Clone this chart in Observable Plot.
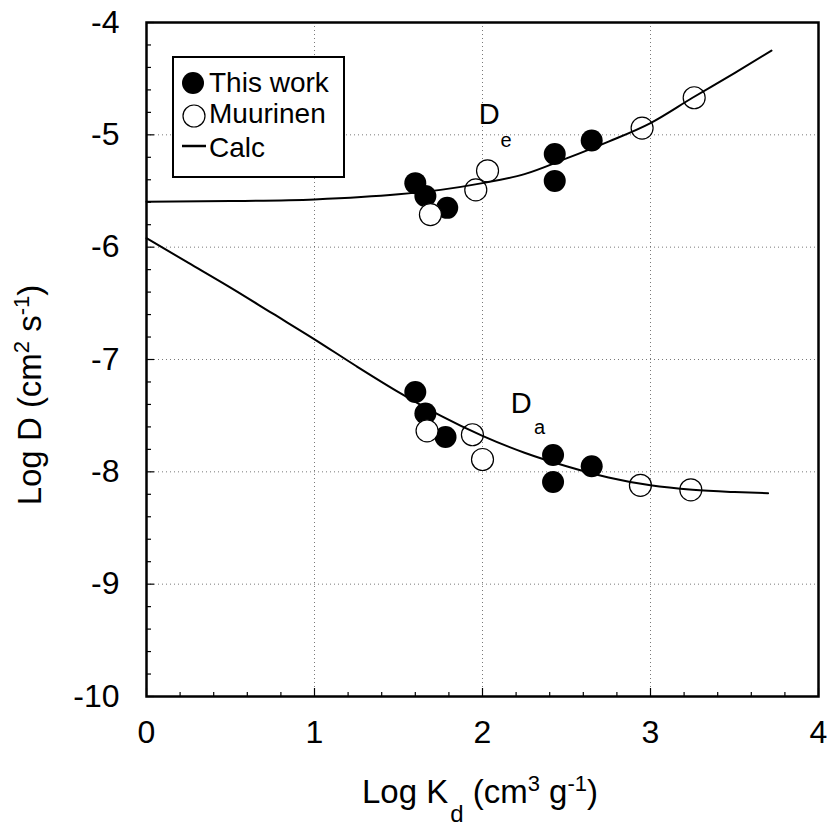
<!DOCTYPE html>
<html><head><meta charset="utf-8">
<script src="https://cdn.jsdelivr.net/npm/d3@7"></script>
<script src="https://cdn.jsdelivr.net/npm/@observablehq/plot@0.6"></script>
<style>body{margin:0;background:#fff}#chart{width:829px;height:827px}</style>
</head><body><div id="chart"></div>
<script>
// ---- data ----
const deFilledX = [1.60, 1.66, 1.79, 2.43, 2.43, 2.65];
const deFilledY = [-5.43, -5.545, -5.65, -5.17, -5.41, -5.05];
const deOpenX = [1.69, 1.96, 2.03, 2.95, 3.26];
const deOpenY = [-5.71, -5.49, -5.32, -4.94, -4.67];
const daFilledX = [1.60, 1.66, 1.78, 2.42, 2.42, 2.65];
const daFilledY = [-7.29, -7.48, -7.69, -7.85, -8.09, -7.95];
const daOpenX = [1.67, 1.94, 2.00, 2.94, 3.24];
const daOpenY = [-7.635, -7.67, -7.89, -8.12, -8.16];
const deCalcX = [0, 0.5, 1.0, 1.5, 1.75, 2.0, 2.25, 2.5, 2.75, 3.0, 3.25, 3.5, 3.72];
const deCalcY = [-5.595, -5.59, -5.575, -5.53, -5.49, -5.43, -5.35, -5.21, -5.06, -4.895, -4.67, -4.45, -4.25];
const daCalcX = [0, 0.25, 0.5, 0.75, 1.0, 1.25, 1.5, 1.75, 2.0, 2.25, 2.5, 2.75, 3.0, 3.25, 3.5, 3.7];
const daCalcY = [-5.92, -6.14, -6.36, -6.59, -6.82, -7.06, -7.29, -7.50, -7.68, -7.83, -7.95, -8.05, -8.12, -8.16, -8.18, -8.19];
const xTicks = [0, 1, 2, 3, 4];
const yTicks = [-4, -5, -6, -7, -8, -9, -10];
const xMinor = [0.2, 0.4, 0.6, 0.8, 1.2, 1.4, 1.6, 1.8, 2.2, 2.4, 2.6, 2.8, 3.2, 3.4, 3.6, 3.8];
const yMinor = [-4.2, -4.4, -4.6, -4.8, -5.2, -5.4, -5.6, -5.8, -6.2, -6.4, -6.6, -6.8, -7.2, -7.4, -7.6, -7.8, -8.2, -8.4, -8.6, -8.8, -9.2, -9.4, -9.6, -9.8];
const xGrid = [1, 2, 3];
const yGrid = [-5, -6, -7, -8, -9];
const legendLabels = ["This work", "Muurinen", "Calc"];

const pts = (xs, ys) => xs.map((x, i) => ({x, y: ys[i]}));
const deFilled = pts(deFilledX, deFilledY), deOpen = pts(deOpenX, deOpenY);
const daFilled = pts(daFilledX, daFilledY), daOpen = pts(daOpenX, daOpenY);
const deCalc = pts(deCalcX, deCalcY), daCalc = pts(daCalcX, daCalcY);

const FONT = "'Liberation Sans', Arimo, Arial, Helvetica, sans-serif";
const W = 829, H = 827, mL = 146, mR = 11, mT = 22, mB = 131;
const fmt = d => String(d);

const svgEl = Plot.plot({
  width: W, height: H,
  marginLeft: mL, marginRight: mR, marginTop: mT, marginBottom: mB,
  style: {fontFamily: FONT, background: "white", color: "black", overflow: "visible"},
  x: {domain: [0, 4]},
  y: {domain: [-10, -4]},
  marks: [
    Plot.gridX(xGrid, {stroke: "#444", strokeOpacity: 0.9, strokeWidth: 0.8, strokeDasharray: "1,3"}),
    Plot.gridY(yGrid, {stroke: "#444", strokeOpacity: 0.9, strokeWidth: 0.8, strokeDasharray: "1,3"}),
    Plot.axisX({ticks: xMinor, tickSize: -4, text: null, label: null, strokeWidth: 1.2}),
    Plot.axisX({ticks: xTicks, tickSize: -8, text: null, label: null, strokeWidth: 1.2}),
    Plot.axisX({ticks: xTicks, tickSize: 0, tickPadding: 24, tickFormat: fmt, fontSize: 32, label: null}),
    Plot.axisY({ticks: yMinor, tickSize: -5, text: null, label: null, strokeWidth: 1.2}),
    Plot.axisY({ticks: yTicks, tickSize: -8, text: null, label: null, strokeWidth: 1.2}),
    Plot.axisY({ticks: yTicks, tickSize: 0, tickPadding: 27, tickFormat: fmt, fontSize: 32, label: null}),
    Plot.frame({stroke: "black", strokeWidth: 2.5}),
    Plot.dot(deFilled, {x: "x", y: "y", r: 11, fill: "black"}),
    Plot.dot(daFilled, {x: "x", y: "y", r: 11, fill: "black"}),
    Plot.dot(deOpen, {x: "x", y: "y", r: 11, fill: "white", stroke: "black", strokeWidth: 1.2}),
    Plot.dot(daOpen, {x: "x", y: "y", r: 11, fill: "white", stroke: "black", strokeWidth: 1.2}),
    Plot.line(deCalc, {x: "x", y: "y", stroke: "black", strokeWidth: 2, curve: "monotone-x"}),
    Plot.line(daCalc, {x: "x", y: "y", stroke: "black", strokeWidth: 2, curve: "monotone-x"}),
    Plot.text([{x: 2.04, y: -4.82, t: "D"}, {x: 2.23, y: -7.39, t: "D"}], {x: "x", y: "y", text: "t", fontSize: 29, fill: "black"}),
    Plot.text([{x: 2.14, y: -5.05, t: "e"}, {x: 2.34, y: -7.61, t: "a"}], {x: "x", y: "y", text: "t", fontSize: 20, fill: "black"})
  ]
});

document.getElementById("chart").appendChild(svgEl);
const svg = d3.select(svgEl);

// X axis title
const xt = svg.append("text").attr("x", 480).attr("y", 803).attr("text-anchor", "middle")
  .attr("font-size", 33).attr("font-family", FONT).attr("fill", "black");
xt.append("tspan").text("Log K");
xt.append("tspan").attr("font-size", 24).attr("dy", 19).attr("dx", 2).text("d");
xt.append("tspan").attr("dy", -19).text("\u00a0(cm");
xt.append("tspan").attr("font-size", 22).attr("dy", -12).text("3");
xt.append("tspan").attr("dy", 12).text(" g");
xt.append("tspan").attr("font-size", 22).attr("dy", -12).text("-1");
xt.append("tspan").attr("dy", 12).text(")");

// Y axis title
const yt = svg.append("text").attr("transform", "translate(41,395) rotate(-90)").attr("text-anchor", "middle")
  .attr("font-size", 33).attr("font-family", FONT).attr("fill", "black");
yt.append("tspan").text("Log D (cm");
yt.append("tspan").attr("font-size", 22).attr("dy", -12).text("2");
yt.append("tspan").attr("dy", 12).text(" s");
yt.append("tspan").attr("font-size", 22).attr("dy", -12).text("-1");
yt.append("tspan").attr("dy", 12).text(")");

// Legend
const lg = svg.append("g").attr("font-family", FONT).attr("font-size", 28).attr("fill", "black").attr("text-anchor", "start");
lg.append("rect").attr("x", 173).attr("y", 57).attr("width", 171).attr("height", 120)
  .attr("fill", "white").attr("stroke", "black").attr("stroke-width", 2);
lg.append("circle").attr("cx", 193).attr("cy", 83).attr("r", 11).attr("fill", "black");
lg.append("circle").attr("cx", 194).attr("cy", 116).attr("r", 11).attr("fill", "white").attr("stroke", "black").attr("stroke-width", 1.2);
lg.append("line").attr("x1", 182).attr("x2", 206).attr("y1", 146).attr("y2", 146).attr("stroke", "black").attr("stroke-width", 2.5);
const ly = [92, 123, 157];
legendLabels.forEach((t, i) => lg.append("text").attr("x", 209).attr("y", ly[i]).attr("text-anchor", "start").text(t));
</script>
</body></html>
